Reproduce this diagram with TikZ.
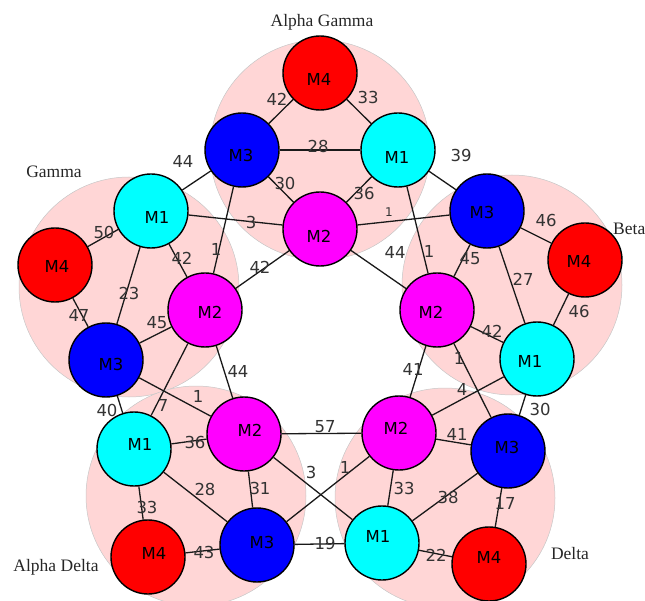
\documentclass[tikz,border=0pt]{standalone}
\usepackage{fontspec}
\newfontfamily\labelsans{DejaVu Sans}
\newfontfamily\titleserif{Liberation Serif}
\definecolor{pinkbg}{RGB}{255,214,214}
\definecolor{mred}{RGB}{255,0,0}
\definecolor{mblue}{RGB}{0,0,255}
\definecolor{mcyan}{RGB}{0,255,255}
\definecolor{mmagenta}{RGB}{255,0,255}
\begin{document}
\begin{tikzpicture}[x=1pt,y=-1pt,
  cluster/.style={circle, minimum size=220pt, inner sep=0pt, fill=pinkbg, draw=black!22, line width=0.5pt},
  machine/.style={circle, draw=black, line width=1.4pt, minimum size=74pt, inner sep=0pt},
  mone/.style={machine, fill=mcyan},
  mtwo/.style={machine, fill=mmagenta},
  mthree/.style={machine, fill=mblue},
  mfour/.style={machine, fill=mred},
  % machine name, nudged toward the middle of the ring
  tag/.style n args={3}{label={[inner sep=0pt, xshift=#1pt, yshift=#2pt,
    font=\labelsans\fontsize{16.5}{18}\selectfont]center:#3}},
  edge/.style={draw=black!90, line width=1.3pt},
  elbl/.style={inner sep=0pt, text=black!80, font=\labelsans\fontsize{16.5}{18}\selectfont},
  slbl/.style={elbl, font=\labelsans\fontsize{12}{14}\selectfont},
  title/.style={inner sep=0pt, text=black!85, font=\titleserif\fontsize{17.5}{20}\selectfont}]
\useasboundingbox (0,0) rectangle (645,601);

% cluster discs
\node[cluster] (cAG) at (320,150) {};
\node[cluster] (cG)  at (129,287) {};
\node[cluster] (cB)  at (512,285) {};
\node[cluster] (cAD) at (196,496) {};
\node[cluster] (cD)  at (445,498) {};

% cluster titles
\node[title] (tAG) at (322,22) {Alpha Gamma};
\node[title] (tG)  at (54,172) {Gamma};
\node[title, anchor=west] (tB) at (613,229) {Beta};
\node[title] (tAD) at (56,567) {Alpha Delta};
\node[title] (tD)  at (570,554) {Delta};

% machines: Alpha Gamma
\node[mfour,  tag={-1}{-6}{M4}] (ag4) at (320,73)  {};
\node[mthree, tag={-1}{-5}{M3}] (ag3) at (242,150) {};
\node[mone,   tag={-1}{-7}{M1}] (ag1) at (398,150) {};
\node[mtwo,   tag={-1}{-7}{M2}] (ag2) at (320,229) {};
% Gamma
\node[mone,   tag={6}{-6}{M1}] (g1) at (151,211) {};
\node[mfour,  tag={2}{-1}{M4}] (g4) at (55,265)  {};
\node[mthree, tag={5}{-4}{M3}] (g3) at (106,360) {};
\node[mtwo,   tag={5}{-2}{M2}] (g2) at (205,310) {};
% Beta
\node[mthree, tag={-5}{-1}{M3}] (b3) at (487,211) {};
\node[mfour,  tag={-6}{-1}{M4}] (b4) at (585,260) {};
\node[mtwo,   tag={-6}{-2}{M2}] (b2) at (437,310) {};
\node[mone,   tag={-7}{-2}{M1}] (b1) at (537,359) {};
% Alpha Delta
\node[mone,   tag={6}{5}{M1}] (ad1) at (134,449) {};
\node[mtwo,   tag={6}{4}{M2}] (ad2) at (244,434) {};
\node[mthree, tag={5}{3}{M3}] (ad3) at (257,545) {};
\node[mfour,  tag={6}{4}{M4}] (ad4) at (148,557) {};
% Delta
\node[mtwo,   tag={-3}{5}{M2}] (d2) at (399,433) {};
\node[mthree, tag={-1}{4}{M3}] (d3) at (508,451) {};
\node[mone,   tag={-4}{7}{M1}] (d1) at (382,543) {};
\node[mfour,  tag={0}{7}{M4}]  (d4) at (489,564) {};

% Alpha Gamma links
\draw[edge] (ag3) -- (ag4) node[elbl, at={(277,99)}] {42};
\draw[edge] (ag1) -- (ag4) node[elbl, at={(368,97)}] {33};
\draw[edge] (ag3) -- (ag1) node[elbl, at={(318,146)}] {28};
\draw[edge] (ag3) -- (ag2) node[elbl, at={(285,183)}] {30};
\draw[edge] (ag1) -- (ag2) node[elbl, at={(364,193)}] {36};
\draw[edge] (g1) -- (ag3) node[elbl, at={(183,161)}] {44};
\draw[edge] (ag1) -- (b3) node[elbl, at={(461,155)}] {39};
\draw[edge] (g1) -- (ag2) node[elbl, at={(251,222)}] {3};
\draw[edge] (ag2) -- (b3) node[slbl, at={(389,212)}] {1};
\draw[edge] (ag3) -- (g2) node[elbl, at={(216,249)}] {1};
\draw[edge] (ag1) -- (b2) node[elbl, at={(429,251)}] {1};
\draw[edge] (ag2) -- (g2) node[elbl, at={(260,267)}] {42};
\draw[edge] (ag2) -- (b2) node[elbl, at={(395,252)}] {44};

% Gamma links
\draw[edge] (g1) -- (g4) node[elbl, at={(104,232)}] {50};
\draw[edge] (g1) -- (g2) node[elbl, at={(182,258)}] {42};
\draw[edge] (g1) -- (g3) node[elbl, at={(129,293)}] {23};
\draw[edge] (g4) -- (g3) node[elbl, at={(79,315)}] {47};
\draw[edge] (g3) -- (g2) node[elbl, at={(157,323)}] {45};
\draw[edge] (g2) -- (ad2) node[elbl, at={(238,371)}] {44};
\draw[edge] (g3) -- (ad2) node[elbl, at={(198,396)}] {1};
\draw[edge] (g2) -- (ad1) node[elbl, at={(163,405)}] {7};
\draw[edge] (g3) -- (ad1) node[elbl, at={(107,410)}] {40};

% Beta links
\draw[edge] (b3) -- (b4) node[elbl, at={(546,220)}] {46};
\draw[edge] (b3) -- (b2) node[elbl, at={(470,259)}] {45};
\draw[edge] (b3) -- (b1) node[elbl, at={(523,279)}] {27};
\draw[edge] (b4) -- (b1) node[elbl, at={(579,311)}] {46};
\draw[edge] (b2) -- (b1) node[elbl, at={(492,331)}] {42};
\draw[edge] (b2) -- (d2) node[elbl, at={(413,369)}] {41};
\draw[edge] (b2) -- (d3) node[elbl, at={(459,358)}] {1};
\draw[edge] (b1) -- (d2) node[elbl, at={(462,389)}] {4};
\draw[edge] (b1) -- (d3) node[elbl, at={(540,409)}] {30};

% Alpha Delta links
\draw[edge] (ad1) -- (ad2) node[elbl, at={(195,442)}] {36};
\draw[edge] (ad1) -- (ad3) node[elbl, at={(205,489)}] {28};
\draw[edge] (ad1) -- (ad4) node[elbl, at={(147,507)}] {33};
\draw[edge] (ad2) -- (ad3) node[elbl, at={(260,488)}] {31};
\draw[edge] (ad4) -- (ad3) node[elbl, at={(204,552)}] {43};
\draw[edge] (ad2) -- (d2) node[elbl, at={(325,427)}] {57};
\draw[edge] (ad2) -- (d1) node[elbl, at={(311,472)}] {3};
\draw[edge] (ad3) -- (d2) node[elbl, at={(345,467)}] {1};
\draw[edge] (ad3) -- (d1) node[elbl, at={(325,543)}] {19};

% Delta links
\draw[edge] (d2) -- (d3) node[elbl, at={(457,434)}] {41};
\draw[edge] (d2) -- (d1) node[elbl, at={(404,488)}] {33};
\draw[edge] (d3) -- (d1) node[elbl, at={(448,497)}] {38};
\draw[edge] (d3) -- (d4) node[elbl, at={(505,503)}] {17};
\draw[edge] (d1) -- (d4) node[elbl, at={(436,555)}] {22};
\end{tikzpicture}
\end{document}
